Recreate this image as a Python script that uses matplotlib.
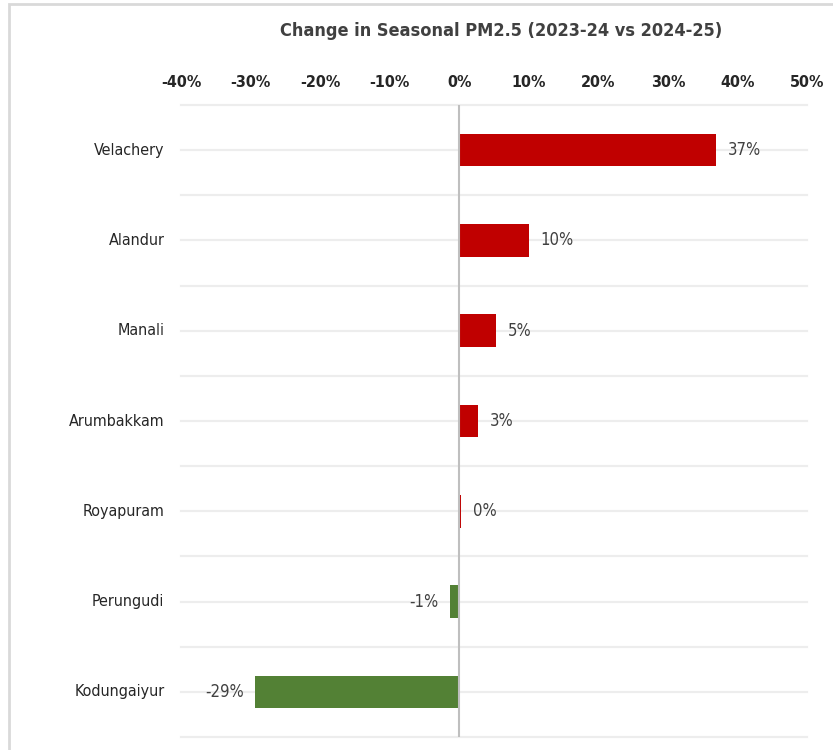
import matplotlib
matplotlib.use("Agg")
import matplotlib.pyplot as plt
from matplotlib.patches import Rectangle
from matplotlib.ticker import MultipleLocator, FuncFormatter

# Seasonal PM2.5 change per monitoring station (%)
stations = ["Velachery", "Alandur", "Manali", "Arumbakkam", "Royapuram", "Perungudi", "Kodungaiyur"]
change_pct = [36.9, 10.0, 5.3, 2.7, 0.3, -1.3, -29.3]
x_ticks = [-40, -30, -20, -10, 0, 10, 20, 30, 40, 50]

title = "Change in Seasonal PM2.5 (2023-24 vs 2024-25)"

RED = "#C00000"
GREEN = "#538135"
GRID = "#EDEDED"
TEXT_DARK = "#404040"

plt.rcParams["font.family"] = ["DejaVu Sans"]
FS = dict(family="DejaVu Sans", stretch="condensed")

fig = plt.figure(figsize=(8.33, 7.5), dpi=100)
fig.patch.set_facecolor("white")

# light outer frame of the chart area
fig.patches.append(Rectangle((9 / 833, -0.05), 1.2, 1 - 4 / 750 + 0.05,
                             transform=fig.transFigure, fill=False,
                             edgecolor="#D9D9D9", linewidth=2.0))

ax = fig.add_axes([181 / 833, 1 - 737 / 750, 626 / 833, 632 / 750])

ypos = list(range(len(stations)))
colors = [RED if v >= 0 else GREEN for v in change_pct]
ax.barh(ypos, change_pct, height=0.36, color=colors, zorder=3)

ax.set_xlim(x_ticks[0], x_ticks[-1])
ax.set_ylim(len(stations) - 0.5, -0.5)

# horizontal gridlines at category centres and boundaries
ax.yaxis.set_major_locator(MultipleLocator(0.5))
ax.grid(axis="y", color=GRID, linewidth=1.6, zorder=0)
for gl in ax.get_ygridlines():
    gl.set_clip_on(False)
ax.tick_params(axis="y", length=0, labelleft=False)
ax.axvline(0, color="#BFBFBF", linewidth=1.5, zorder=4)

for s in ax.spines.values():
    s.set_visible(False)

ax.xaxis.tick_top()
ax.set_xticks(x_ticks)
ax.xaxis.set_major_formatter(FuncFormatter(lambda v, p: f"{v:.0f}%"))
ax.tick_params(axis="x", length=0, pad=11, colors="#262626")
for lab in ax.get_xticklabels():
    lab.set_fontweight("bold")
    lab.set_fontsize(11.5)
    lab.set_fontstretch("condensed")

# station names
for y, name in zip(ypos, stations):
    ax.text(-40 - 2.4, y, name, ha="right", va="center", fontsize=11.5,
            color="#262626", **FS)

# value labels
for y, v in zip(ypos, change_pct):
    if v >= 0:
        ax.text(v + 1.7, y, f"{v:.0f}%", ha="left", va="center",
                fontsize=12, color=TEXT_DARK, **FS)
    else:
        ax.text(v - 1.7, y, f"{v:.0f}%", ha="right", va="center",
                fontsize=12, color=TEXT_DARK, **FS)

fig.text(501 / 833, 1 - 31 / 750, title, ha="center", va="center",
         fontsize=13, fontweight="bold", color=TEXT_DARK, **FS)

fig.savefig("out.png", dpi=100, facecolor="white")
